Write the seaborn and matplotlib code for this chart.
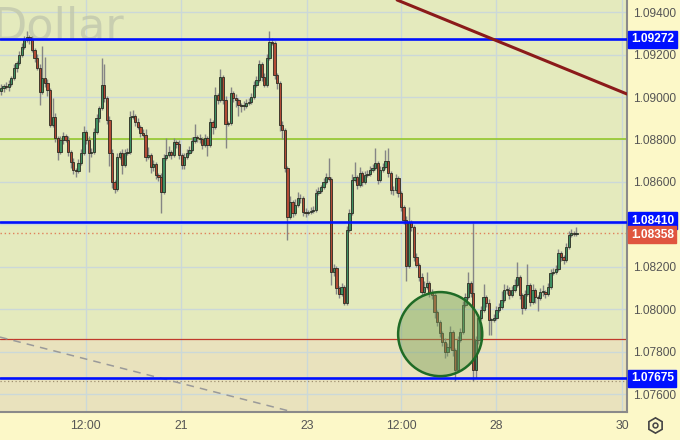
import numpy as np
import pandas as pd
import seaborn as sns
import matplotlib.pyplot as plt
from matplotlib.patches import Ellipse
from matplotlib.lines import Line2D
import matplotlib.transforms as mtransforms

# EUR/USD style candles (open of each = previous close)
first_open = 1.09028
closes = [
    1.09042, 1.09051, 1.09047, 1.09061, 1.09089, 1.09136, 1.09160, 1.09197,
    1.09235, 1.09268, 1.09282, 1.09268, 1.09221, 1.09183, 1.09136, 1.09023,
    1.09089, 1.09066, 1.09033, 1.08868, 1.08905, 1.08807, 1.08741, 1.08797,
    1.08816, 1.08797, 1.08741, 1.08694, 1.08656, 1.08651, 1.08689, 1.08736,
    1.08835, 1.08797, 1.08736, 1.08741, 1.08835, 1.08901, 1.08948, 1.09056,
    1.08995, 1.08891, 1.08736, 1.08599, 1.08566, 1.08717, 1.08736, 1.08679,
    1.08736, 1.08741, 1.08905, 1.08910, 1.08882, 1.08858, 1.08830, 1.08821,
    1.08717, 1.08726, 1.08670, 1.08684, 1.08632, 1.08623, 1.08552, 1.08712,
    1.08726, 1.08741, 1.08726, 1.08788, 1.08778, 1.08726, 1.08679, 1.08717,
    1.08736, 1.08750, 1.08792, 1.08811, 1.08807, 1.08802, 1.08774, 1.08807,
    1.08774, 1.08882, 1.08858, 1.09009, 1.08985, 1.09094, 1.08985, 1.08872,
    1.08877, 1.09018, 1.08995, 1.08985, 1.08962, 1.08957, 1.08959, 1.08971,
    1.08976, 1.09000, 1.09056, 1.09080, 1.09155, 1.09094, 1.09056, 1.09183,
    1.09259, 1.09254, 1.09103, 1.09066, 1.08868, 1.08844, 1.08665, 1.08434,
    1.08505, 1.08453, 1.08491, 1.08524, 1.08522, 1.08458, 1.08453, 1.08458,
    1.08463, 1.08467, 1.08547, 1.08557, 1.08576, 1.08599, 1.08623, 1.08613,
    1.08175, 1.08194, 1.08100, 1.08072, 1.08105, 1.08029, 1.08373, 1.08453,
    1.08609, 1.08623, 1.08585, 1.08642, 1.08599, 1.08632, 1.08637, 1.08656,
    1.08665, 1.08689, 1.08609, 1.08656, 1.08670, 1.08698, 1.08642, 1.08562,
    1.08560, 1.08618, 1.08547, 1.08482, 1.08420, 1.08204, 1.08411, 1.08387,
    1.08246, 1.08208, 1.08152, 1.08081, 1.08105, 1.08124, 1.08077, 1.08067,
    1.07987, 1.07940, 1.07888, 1.07846, 1.07799, 1.07822, 1.07893, 1.07808,
    1.07714, 1.07855, 1.07893, 1.08020, 1.08058, 1.08124, 1.08077, 1.07714,
    1.07855, 1.07959, 1.07996, 1.08058, 1.08029, 1.07949, 1.07951, 1.07959,
    1.07996, 1.08011, 1.08044, 1.08091, 1.08093, 1.08067, 1.08091, 1.08114,
    1.08152, 1.08067, 1.08006, 1.08072, 1.08114, 1.08034, 1.08091, 1.08058,
    1.08053, 1.08081, 1.08083, 1.08072, 1.08105, 1.08171, 1.08175, 1.08190,
    1.08265, 1.08246, 1.08232, 1.08293, 1.08350, 1.08359, 1.08356, 1.08358,
]
# wick lengths beyond the body, in pips
wick_up = [
    2, 1, 2, 2, 1, 2, 1, 2, 2, 2, 3, 1, 2, 1, 2, 2,
    15, 10, 2, 1, 9, 2, 1, 2, 2, 1, 2, 1, 2, 1, 2, 2,
    3, 1, 2, 2, 2, 2, 1, 13, 10, 1, 2, 2, 1, 2, 1, 2,
    2, 2, 3, 3, 1, 2, 1, 2, 3, 4, 1, 2, 1, 1, 2, 2,
    8, 3, 1, 2, 1, 2, 1, 2, 2, 2, 2, 6, 1, 2, 1, 2,
    1, 2, 1, 4, 1, 4, 1, 2, 1, 3, 1, 2, 1, 1, 2, 2,
    2, 2, 2, 2, 2, 1, 2, 2, 5, 2, 1, 1, 1, 2, 1, 1,
    3, 1, 3, 3, 2, 1, 2, 1, 2, 2, 2, 2, 1, 2, 2, 9,
    1, 2, 1, 1, 2, 1, 2, 2, 3, 7, 1, 3, 1, 2, 2, 2,
    2, 7, 1, 2, 2, 5, 6, 1, 2, 2, 1, 1, 1, 2, 7, 1,
    1, 2, 1, 2, 3, 5, 1, 2, 1, 1, 1, 1, 2, 2, 3, 1,
    1, 2, 2, 2, 2, 5, 1, 33, 2, 2, 2, 6, 1, 2, 1, 2,
    2, 2, 4, 3, 2, 1, 2, 3, 7, 1, 1, 2, 10, 1, 3, 1,
    1, 2, 3, 1, 2, 2, 2, 2, 2, 1, 1, 2, 2, 2, 1, 3,
]
wick_dn = [
    2, 2, 1, 2, 1, 1, 2, 1, 1, 1, 1, 2, 1, 2, 1, 6,
    1, 2, 3, 1, 1, 2, 4, 1, 2, 1, 2, 3, 2, 3, 1, 1,
    1, 2, 9, 2, 1, 1, 2, 1, 2, 2, 6, 3, 2, 1, 1, 4,
    1, 1, 1, 1, 2, 1, 2, 1, 2, 1, 3, 2, 2, 2, 10, 1,
    1, 1, 2, 1, 2, 2, 2, 2, 1, 1, 1, 1, 2, 2, 2, 1,
    5, 1, 3, 1, 2, 1, 2, 11, 1, 1, 2, 3, 5, 3, 2, 1,
    1, 1, 1, 1, 1, 2, 1, 1, 1, 1, 2, 3, 3, 4, 2, 11,
    1, 2, 1, 1, 2, 2, 2, 1, 1, 1, 1, 1, 1, 1, 1, 1,
    6, 2, 3, 2, 1, 1, 1, 1, 1, 1, 2, 1, 2, 1, 1, 1,
    1, 1, 2, 1, 1, 1, 2, 2, 2, 1, 2, 2, 2, 7, 1, 2,
    2, 1, 2, 2, 1, 1, 2, 2, 3, 2, 2, 2, 3, 2, 1, 3,
    5, 1, 1, 1, 1, 1, 2, 5, 4, 2, 1, 1, 2, 7, 7, 1,
    1, 1, 1, 1, 2, 2, 1, 1, 1, 2, 3, 1, 1, 2, 1, 3,
    6, 1, 2, 2, 1, 1, 1, 1, 1, 2, 2, 1, 1, 1, 1, 1,
]
assert len(closes) == len(wick_up) == len(wick_dn), (len(closes), len(wick_up), len(wick_dn))

price_ticks = [1.094, 1.092, 1.090, 1.088, 1.086, 1.084, 1.082, 1.080, 1.078, 1.076]
time_ticks = [32.9, 69.8, 118.6, 155.0, 191.9, 240.7]
time_labels = ["12:00", "21", "23", "12:00", "28", "30"]

blue_levels = [1.09272, 1.08410, 1.07675]
green_level = 1.08800
red_level = 1.07860
last_price = 1.08358
low_dotted = 1.07660

trend_x = [153.5, 242.6]
trend_y = [1.09457, 1.09014]
dash_x = [-0.4, 113.2]
dash_y = [1.07869, 1.07516]
circle_x, circle_y = 170.2, 1.07883

# ---- build the frame
df = pd.DataFrame({"close": closes, "up": wick_up, "dn": wick_dn})
df["open"] = [first_open] + closes[:-1]
df["high"] = df[["open", "close"]].max(axis=1) + df["up"] * 1e-4
df["low"] = df[["open", "close"]].min(axis=1) - df["dn"] * 1e-4
df["t"] = np.arange(len(df))
df["bull"] = df["close"] >= df["open"]

sns.set_theme(style="white")
plt.rcParams["font.family"] = ["Liberation Sans", "DejaVu Sans"]

fig = plt.figure(figsize=(6.8, 4.4), dpi=100, facecolor="#fcf8c8")
ax = fig.add_axes([0, 28 / 440, 627 / 680, 412 / 440])
ax.set_facecolor("#e4eabd")
ymin, ymax = 1.07516, 1.09457
ax.set_xlim(-0.4, 242.6)
ax.set_ylim(ymin, ymax)

# zones and grid
ax.axhspan(ymin, red_level, color="#e9e2bd", zorder=0.2, lw=0)
for p in price_ticks:
    ax.axhline(p, color="#cbd8d8", lw=1, zorder=0.5)
for t in time_ticks:
    ax.axvline(t, color="#cbd8d8", lw=1, zorder=0.5)

ax.axhline(red_level, color="#c0392b", lw=0.9, zorder=1)
ax.axhline(green_level, color="#94c829", lw=1.2, zorder=1)
ax.axhline(last_price, color="#e0805a", lw=1, ls=(0, (1, 2)), zorder=1)
ax.axhline(low_dotted, color="#a09070", lw=0.9, ls=(0, (1, 2)), zorder=1)
for lv in blue_levels:
    ax.axhline(lv, color="#0010ff", lw=1.9, zorder=4)

# watermark
ax.text(-0.012, 0.935, "Dollar", transform=ax.transAxes, fontsize=32,
        family="DejaVu Sans", color="#c2c8ad", alpha=0.8, va="center",
        ha="left", zorder=0.6)

# trend lines
sns.lineplot(x=trend_x, y=trend_y, ax=ax, color="#8b1a1a", lw=2.2, zorder=4)
sns.lineplot(x=dash_x, y=dash_y, ax=ax, color="#9a9a9a", lw=1.1,
             linestyle=(0, (5, 4)), zorder=1)

# candles
ax.vlines(df["t"], df["low"], df["high"], color="#858585", lw=1, zorder=2)
body = (df["close"] - df["open"]).abs().clip(lower=0.00003)
bottom = df[["open", "close"]].min(axis=1)
ax.bar(df["t"], body, bottom=bottom, width=0.88,
       color=np.where(df["bull"], "#3f8f62", "#b24a35"),
       edgecolor="#2b2b22", linewidth=0.6, zorder=3)

# circle highlight
ax.add_patch(Ellipse((circle_x, circle_y), 32.6, 0.00396, facecolor="#7aa05a",
                     alpha=0.45, edgecolor="none", zorder=5))
ax.add_patch(Ellipse((circle_x, circle_y), 32.6, 0.00396, facecolor="none",
                     edgecolor="#1f6b26", lw=1.8, zorder=5))

# axes styling
for s in ["top", "left"]:
    ax.spines[s].set_visible(False)
for s in ["right", "bottom"]:
    ax.spines[s].set_color("#8a8a8a")
    ax.spines[s].set_linewidth(1.5)
ax.yaxis.tick_right()
ax.set_yticks(price_ticks)
# 1.08400 sits under the 1.08410 tag, so it is not shown
ax.set_yticklabels(["" if abs(p - 1.084) < 1e-9 else f"{p:.5f}" for p in price_ticks])
ax.set_xticks(time_ticks)
ax.set_xticklabels(time_labels)
ax.tick_params(axis="y", length=0, pad=4, labelsize=8.6, labelcolor="#555555")
ax.tick_params(axis="x", length=0, pad=6, labelsize=8.8, labelcolor="#555555")

# price tags on the right scale
tr = mtransforms.blended_transform_factory(ax.transAxes, ax.transData)
tags = [(lv, "#0010ff") for lv in blue_levels] + [(last_price, "#e0553f")]
for lv, c in tags:
    y = lv + (0.00008 if lv == 1.08410 else 0) - (0.00006 if lv == last_price else 0)
    ax.text(1.006, y, f"{lv:.5f}", transform=tr, ha="left", va="center",
            fontsize=8.6, color="white", fontweight="bold", clip_on=False,
            zorder=6, bbox=dict(boxstyle="square,pad=0.22", fc=c, ec=c))

# settings icon
fig.add_artist(Line2D([655 / 680], [1 - 425 / 440], marker="h", ms=11,
                      mfc="none", mec="#444444", mew=1.2, transform=fig.transFigure))
fig.add_artist(Line2D([655 / 680], [1 - 425 / 440], marker="o", ms=3.5,
                      mfc="none", mec="#444444", mew=1.1, transform=fig.transFigure))

fig.savefig("out.png", dpi=100, facecolor=fig.get_facecolor())
